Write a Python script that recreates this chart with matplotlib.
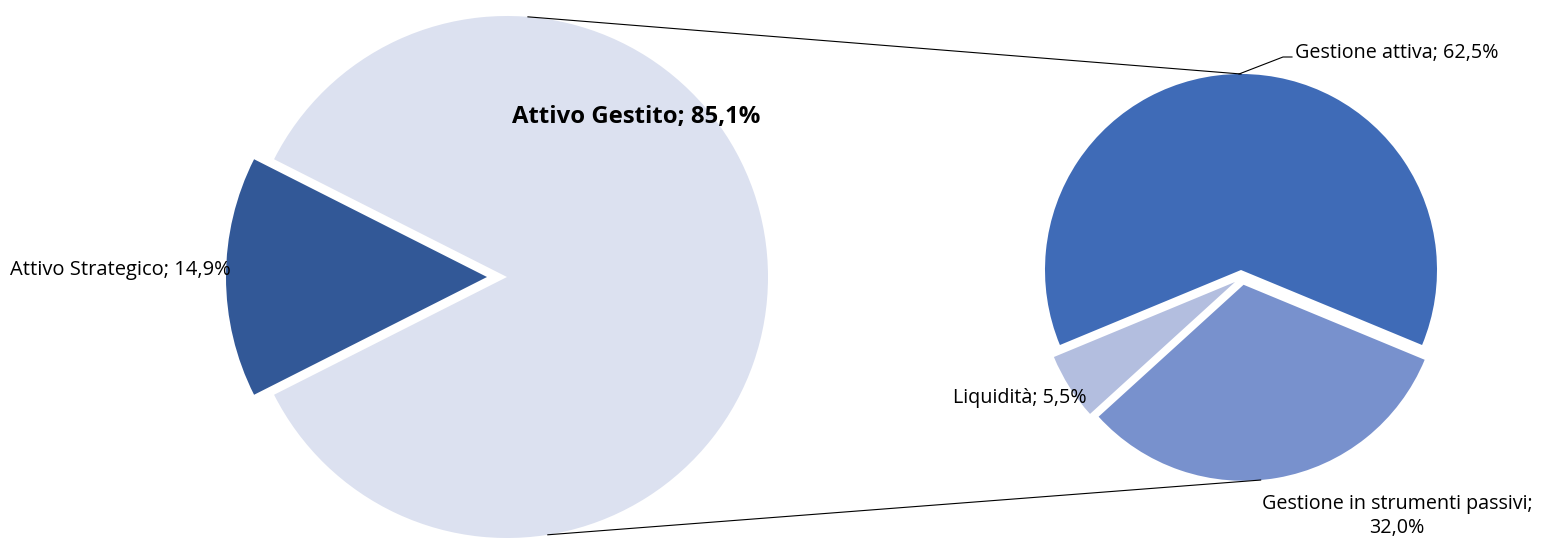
import matplotlib
matplotlib.use("Agg")
import matplotlib.pyplot as plt
import numpy as np

# Data
left_labels = ["Attivo Strategico", "Attivo Gestito"]
left_values = [14.9, 85.1]
right_labels = ["Gestione attiva", "Gestione in strumenti passivi", "Liquidità"]
right_values = [62.5, 32.0, 5.5]

left_colors = ["#325897", "#DCE1F0"]
right_colors = ["#3F6BB7", "#7891CD", "#B3BEDF"]

W, H = 1545, 538
plt.rcParams['font.family'] = ['Open Sans', 'DejaVu Sans']
fig = plt.figure(figsize=(W / 100, H / 100), dpi=100)
ax = fig.add_axes([0, 0, 1, 1])

# Left pie
lc = (507, H - 277)
lr = 261
l_start = 180 - left_values[0] / 100 * 360 / 2
ax.pie(left_values, colors=left_colors, startangle=l_start, counterclock=True,
       center=lc, radius=lr, explode=[20, 0],
       wedgeprops=dict(linewidth=0), frame=True)

# Right pie
rc = (1241, H - 270)
rr = 196
r_start = 90 + right_values[0] / 100 * 360 / 2
rw, _ = ax.pie(right_values, colors=right_colors, startangle=r_start, counterclock=False,
               center=rc, radius=rr, explode=[0, 15, 13],
               wedgeprops=dict(linewidth=0), frame=True)
# Excel-like offset of the small slice
rw[2].set_center((rc[0] - 6, rc[1] - 12))

ax.set_xlim(0, W)
ax.set_ylim(0, H)
ax.set_aspect("equal")
ax.axis("off")

def pt(c, r, ang, off=(0, 0)):
    a = np.deg2rad(ang)
    return (c[0] + off[0] + r * np.cos(a), c[1] + off[1] + r * np.sin(a))

# Connector lines
p1 = pt(lc, lr, 85.4)
p2 = pt(rc, rr, 90)
a_pass = -22.5 - right_values[1] / 100 * 360 / 2
off_pass = (15 * np.cos(np.deg2rad(a_pass)), 15 * np.sin(np.deg2rad(a_pass)))
p3 = pt(lc, lr, -81)
p4 = pt(rc, rr, -85, off_pass)
ax.plot([p1[0], p2[0]], [p1[1], p2[1]], color="black", lw=0.8)
ax.plot([p3[0], p4[0]], [p3[1], p4[1]], color="black", lw=0.8)

# Leader for Gestione attiva
ax.plot([p2[0] - 2, 1283, 1292], [p2[1], H - 57, H - 57], color="black", lw=0.8)

fs = 14.2
ax.text(636, H - 117, f"{left_labels[1]}; {left_values[1]:.1f}%".replace(".", ","),
        fontsize=17.2, fontweight="bold", ha="center", va="center")
ax.text(10, H - 270, f"{left_labels[0]}; {left_values[0]:.1f}%".replace(".", ","),
        fontsize=14.5, ha="left", va="center")
ax.text(1295, H - 53, f"{right_labels[0]}; {right_values[0]:.1f}%".replace(".", ","),
        fontsize=fs, ha="left", va="center")
ax.text(1087, H - 398, f"{right_labels[2]}; {right_values[2]:.1f}%".replace(".", ","),
        fontsize=fs, ha="right", va="center")
ax.text(1397, H - 516, f"{right_labels[1]};\n{right_values[1]:.1f}%".replace(".", ","),
        fontsize=fs, ha="center", va="center", linespacing=1.2)

fig.savefig("out.png", dpi=100)
